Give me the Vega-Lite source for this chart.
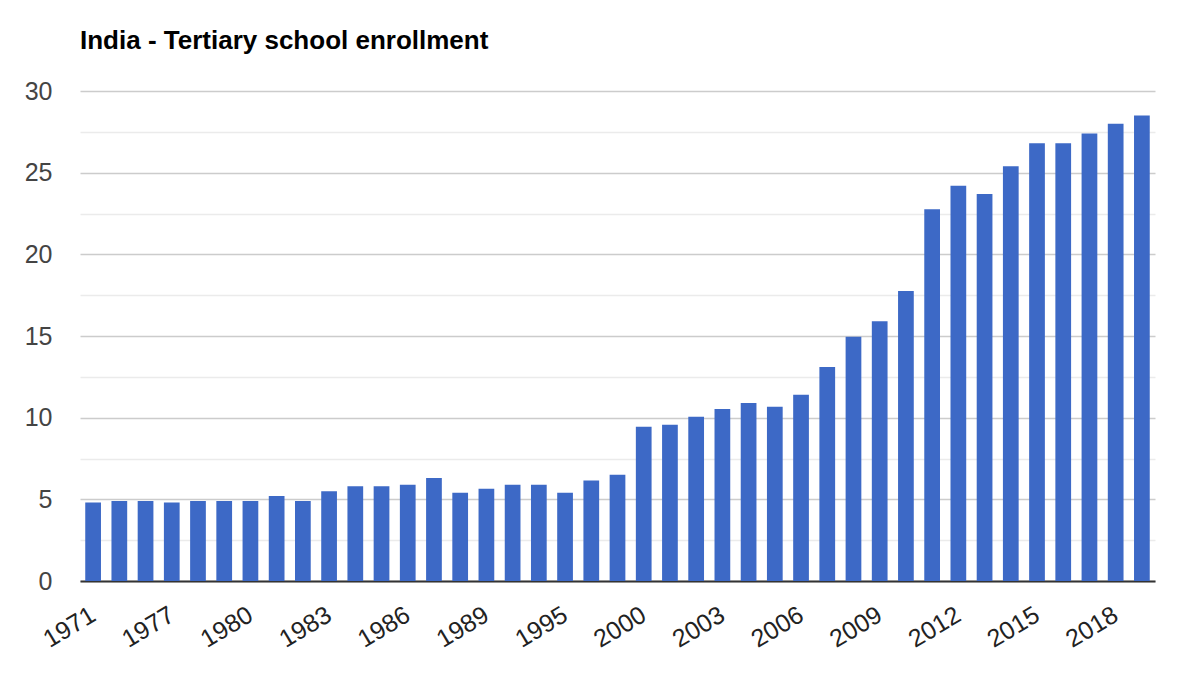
{
  "$schema": "https://vega.github.io/schema/vega-lite/v6.json",
  "width": 1075,
  "height": 490,
  "autosize": "none",
  "padding": {"left": 80, "top": 91, "right": 45, "bottom": 101},
  "background": "white",
  "config": {
    "view": {"stroke": null},
    "font": "Liberation Sans"
  },
  "title": {
    "text": "India - Tertiary school enrollment",
    "anchor": "start",
    "frame": "group",
    "font": "Liberation Sans",
    "fontSize": 26,
    "fontWeight": "bold",
    "color": "#000000",
    "offset": 25
  },
  "data": {
    "values": [
      {"year": "1971", "value": 4.8},
      {"year": "1972", "value": 4.9},
      {"year": "1974", "value": 4.9},
      {"year": "1977", "value": 4.8},
      {"year": "1978", "value": 4.9},
      {"year": "1979", "value": 4.9},
      {"year": "1980", "value": 4.9},
      {"year": "1981", "value": 5.2},
      {"year": "1982", "value": 4.9},
      {"year": "1983", "value": 5.5},
      {"year": "1984", "value": 5.8},
      {"year": "1985", "value": 5.8},
      {"year": "1986", "value": 5.9},
      {"year": "1987", "value": 6.3},
      {"year": "1988", "value": 5.4},
      {"year": "1989", "value": 5.65},
      {"year": "1990", "value": 5.9},
      {"year": "1991", "value": 5.9},
      {"year": "1995", "value": 5.4},
      {"year": "1998", "value": 6.15},
      {"year": "1999", "value": 6.5},
      {"year": "2000", "value": 9.45},
      {"year": "2001", "value": 9.57},
      {"year": "2002", "value": 10.06},
      {"year": "2003", "value": 10.53},
      {"year": "2004", "value": 10.9},
      {"year": "2005", "value": 10.67},
      {"year": "2006", "value": 11.4},
      {"year": "2007", "value": 13.1},
      {"year": "2008", "value": 14.95},
      {"year": "2009", "value": 15.9},
      {"year": "2010", "value": 17.76},
      {"year": "2011", "value": 22.76},
      {"year": "2012", "value": 24.2},
      {"year": "2013", "value": 23.7},
      {"year": "2014", "value": 25.4},
      {"year": "2015", "value": 26.8},
      {"year": "2016", "value": 26.8},
      {"year": "2017", "value": 27.4},
      {"year": "2018", "value": 28.0},
      {"year": "2019", "value": 28.5}
    ]
  },
  "mark": {"type": "bar", "color": "#3d69c6"},
  "encoding": {
    "x": {
      "field": "year",
      "type": "ordinal",
      "sort": null,
      "scale": {"paddingInner": 0.4, "paddingOuter": 0.2},
      "axis": {
        "title": null,
        "values": ["1971", "1977", "1980", "1983", "1986", "1989", "1995", "2000", "2003", "2006", "2009", "2012", "2015", "2018"],
        "labelAngle": -31,
        "labelAlign": "right",
        "labelBaseline": "top",
        "labelFont": "Liberation Sans",
        "labelFontSize": 25,
        "labelColor": "#222222",
        "labelPadding": 21,
        "labelOffset": -6,
        "labelOverlap": false,
        "ticks": false,
        "tickSize": 0,
        "domainColor": "#333333",
        "domainWidth": 2,
        "grid": false
      }
    },
    "y": {
      "field": "value",
      "type": "quantitative",
      "scale": {"domain": [0, 30], "nice": false},
      "axis": {
        "title": null,
        "values": [0, 2.5, 5, 7.5, 10, 12.5, 15, 17.5, 20, 22.5, 25, 27.5, 30],
        "labelExpr": "datum.value % 5 === 0 ? datum.label : ''",
        "labelFont": "Liberation Sans",
        "labelFontSize": 25,
        "labelColor": "#444444",
        "labelPadding": 28,
        "labelOverlap": false,
        "ticks": false,
        "tickSize": 0,
        "domain": false,
        "grid": true,
        "gridColor": {"condition": {"test": "datum.value % 5 === 0", "value": "#cccccc"}, "value": "#ebebeb"},
        "gridWidth": 1.5
      }
    }
  }
}
